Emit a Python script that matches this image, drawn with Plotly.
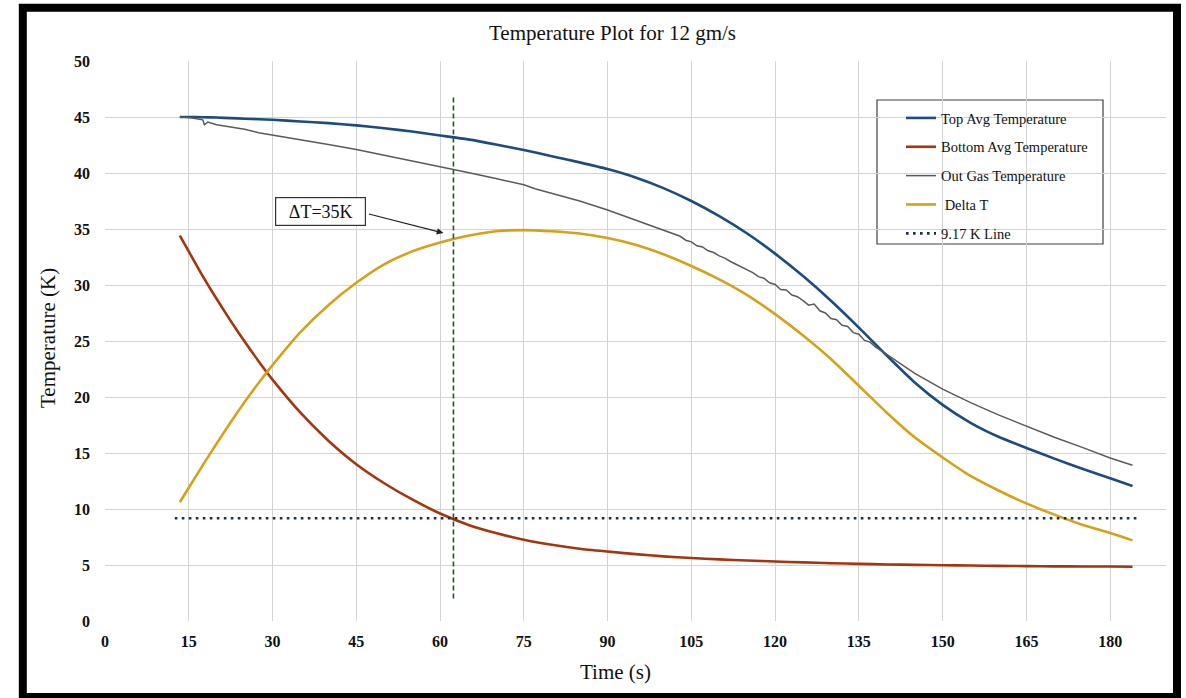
import plotly.graph_objects as go

# ---------------- data ----------------
time_s = [13.4, 15, 17.5, 20, 22.5, 25, 27.5, 30, 35, 40, 45, 50, 55, 60, 65, 70, 75,
          80, 85, 90, 95, 100, 105, 110, 115, 120, 125, 130, 135, 140, 145, 150, 155,
          160, 165, 170, 175, 180, 184]

top_avg = [45.0, 45.0, 44.98, 44.95, 44.9, 44.85, 44.8, 44.75, 44.6, 44.45, 44.25, 44.0,
           43.7, 43.35, 43.0, 42.55, 42.05, 41.5, 40.95, 40.35, 39.6, 38.65, 37.5, 36.15,
           34.6, 32.8, 30.8, 28.6, 26.2, 23.7, 21.3, 19.3, 17.7, 16.45, 15.45, 14.5,
           13.6, 12.75, 12.05]

bottom_avg = [34.4, 33.0, 30.8, 28.75, 26.8, 24.95, 23.2, 21.55, 18.6, 16.1, 14.0, 12.3,
              10.85, 9.6, 8.6, 7.85, 7.25, 6.8, 6.45, 6.2, 5.97, 5.77, 5.62, 5.5, 5.4,
              5.31, 5.23, 5.16, 5.1, 5.05, 5.01, 4.98, 4.95, 4.92, 4.9, 4.88, 4.87, 4.86,
              4.85]

delta_t = [10.6, 11.9, 13.9, 15.85, 17.75, 19.55, 21.25, 22.85, 25.8, 28.2, 30.2, 31.85,
           33.0, 33.8, 34.4, 34.8, 34.9, 34.8, 34.6, 34.2, 33.6, 32.75, 31.7, 30.5, 29.1,
           27.4, 25.5, 23.4, 21.0, 18.6, 16.4, 14.6, 12.95, 11.65, 10.5, 9.5, 8.6, 7.85,
           7.2]

gas_time = [13.4, 15, 17.5, 17.8, 18.4, 20, 22.5, 25, 27.5, 30, 35, 40, 45, 50, 55, 60,
            65, 70, 75, 77, 80, 85, 90, 95, 100, 101, 102, 103, 104, 105, 106, 107, 108,
            109, 110, 111, 112, 113, 114, 115, 116, 117, 118, 119, 120, 121, 122, 123,
            124, 125, 126, 127, 128, 129, 130, 131, 132, 133, 134, 135, 136, 137, 138,
            140, 145, 150, 155, 160, 165, 170, 175, 180, 184]
gas_temp = [45.0, 44.95, 44.75, 44.3, 44.55, 44.3, 44.1, 43.9, 43.6, 43.4, 42.95, 42.55,
            42.1, 41.6, 41.1, 40.55, 40.05, 39.5, 38.95, 38.6, 38.2, 37.5, 36.7, 35.8,
            34.85, 34.7, 34.5, 34.35, 34.0, 33.85, 33.5, 33.4, 33.05, 32.9, 32.6, 32.4,
            32.1, 31.85, 31.6, 31.3, 31.1, 30.75, 30.6, 30.2, 30.05, 29.6, 29.55, 29.1,
            28.95, 28.6, 28.2, 28.3, 27.7, 27.5, 27.0, 26.9, 26.4, 26.3, 25.75, 25.6,
            25.05, 24.9, 24.45, 23.8, 22.1, 20.7, 19.5, 18.4, 17.4, 16.4, 15.5, 14.55,
            13.9]

threshold_k = 9.17
threshold_time = [12.5, 185]
marker_time = 62.4
marker_temp = [2, 47]

x_ticks = [0, 15, 30, 45, 60, 75, 90, 105, 120, 135, 150, 165, 180]
y_ticks = [0, 5, 10, 15, 20, 25, 30, 35, 40, 45, 50]

# ---------------- figure ----------------
SERIF = "Liberation Serif, Times New Roman, serif"
L, R, T, B = 105, 20, 61, 77
W, H = 1186, 698
PW, PH = W - L - R, H - T - B


def px_x(px):
    return (px - L) / PW


def px_y(py):
    return (H - B - py) / PH


fig = go.Figure()

smooth = dict(shape="spline", smoothing=0.6)
fig.add_trace(go.Scatter(x=time_s, y=top_avg, mode="lines", name="Top Avg Temperature",
                         line=dict(color="#1d4c7c", width=2.6, **smooth), legendgroup="a"))
fig.add_trace(go.Scatter(x=time_s, y=bottom_avg, mode="lines", name="Bottom Avg Temperature",
                         line=dict(color="#a3360f", width=2.6, **smooth), legendgroup="b"))
fig.add_trace(go.Scatter(x=gas_time, y=gas_temp, mode="lines", name="Out Gas Temperature",
                         line=dict(color="#5a5a5a", width=1.5), legendgroup="c"))
fig.add_trace(go.Scatter(x=time_s, y=delta_t, mode="lines", name=" Delta T",
                         line=dict(color="#d4a118", width=2.6, **smooth), legendgroup="d"))
fig.add_trace(go.Scatter(x=threshold_time, y=[threshold_k, threshold_k], mode="lines",
                         name="9.17 K Line",
                         line=dict(color="#1b2a5a", width=2.6, dash="2.6px,4.4px"),
                         legendgroup="e"))
fig.add_trace(go.Scatter(x=[marker_time, marker_time], y=marker_temp, mode="lines",
                         showlegend=False,
                         line=dict(color="#1f5a1f", width=1.6, dash="5px,3px")))

axis_common = dict(showgrid=True, gridcolor="#d3d3d3", gridwidth=1.3, zeroline=False,
                   showline=False, ticks="",
                   tickfont=dict(family=SERIF, size=16, color="#111111"))

fig.update_xaxes(range=[0, 190], tickvals=x_ticks,
                 ticktext=[f"<b>{v}</b>" for v in x_ticks],
                 ticklabelstandoff=9, **axis_common)
fig.update_yaxes(range=[0, 50], tickvals=y_ticks,
                 ticktext=[f"<b>{v}</b>" for v in y_ticks],
                 ticklabelstandoff=14, **axis_common)

shapes = [
    # legend box
    dict(type="rect", xref="paper", yref="paper",
         x0=px_x(877), x1=px_x(1103), y0=px_y(244), y1=px_y(100),
         line=dict(color="#404040", width=1.2), fillcolor="white", layer="below"),
    # outer black frame
    dict(type="rect", xref="paper", yref="paper",
         x0=px_x(22.8), x1=px_x(1177), y0=px_y(697), y1=px_y(7.7),
         line=dict(color="black", width=8), layer="above"),
]

annotations = [
    dict(text="Temperature Plot for 12 gm/s", xref="paper", yref="paper",
         x=px_x(612), y=px_y(33), xanchor="center", yanchor="middle", showarrow=False,
         font=dict(family=SERIF, size=21, color="#111111")),
    dict(text="Time (s)", xref="paper", yref="paper", x=px_x(615), y=px_y(672),
         xanchor="center", yanchor="middle", showarrow=False,
         font=dict(family=SERIF, size=21, color="#111111")),
    dict(text="Temperature (K)", xref="paper", yref="paper", x=px_x(48), y=px_y(338),
         xanchor="center", yanchor="middle", showarrow=False, textangle=-90,
         font=dict(family=SERIF, size=21, color="#111111")),
    dict(text="ΔT=35K", x=38.6, y=36.57, xref="x", yref="y", showarrow=False,
         bordercolor="#333333", borderwidth=1.2, borderpad=4, width=81, height=19,
         bgcolor="white", font=dict(family=SERIF, size=18, color="#111111")),
    dict(text="", x=60.6, y=34.64, xref="x", yref="y", ax=47.0, ay=36.37,
         axref="x", ayref="y", showarrow=True, arrowhead=2, arrowsize=1.1,
         arrowwidth=1.2, arrowcolor="#222222"),
]

fig.update_layout(
    width=W, height=H,
    margin=dict(l=L, r=R, t=T, b=B),
    paper_bgcolor="white", plot_bgcolor="white",
    shapes=shapes, annotations=annotations,
    legend=dict(x=px_x(901), y=px_y(102), xanchor="left", yanchor="top",
                bgcolor="rgba(0,0,0,0)", borderwidth=0, tracegroupgap=7,
                font=dict(family=SERIF, size=14.5, color="#111111")),
    showlegend=True,
)

fig.write_html("out.html", config={"displayModeBar": False},
               post_script="document.body.style.margin='0';document.body.style.overflow='hidden';")
